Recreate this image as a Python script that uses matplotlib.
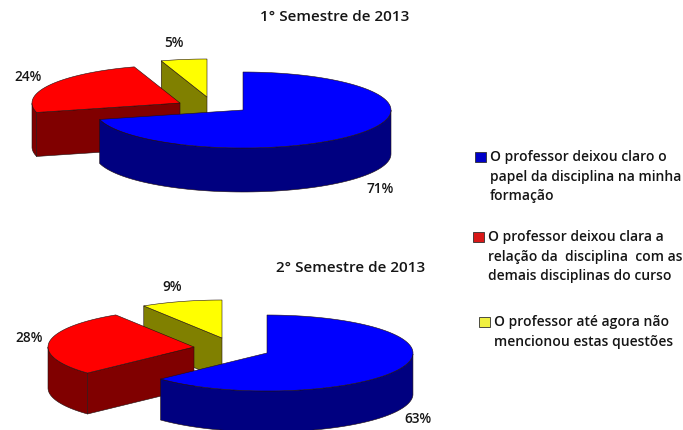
import numpy as np
import matplotlib
matplotlib.use('Agg')
import matplotlib.pyplot as plt
from matplotlib.patches import Polygon, Rectangle

plt.rcParams['font.family'] = ['Open Sans', 'DejaVu Sans']

titles = ['1° Semestre de 2013', '2° Semestre de 2013']
semestre1 = [71, 24, 5]
semestre2 = [63, 28, 9]
legend_lines = [
    ['O professor deixou claro o', 'papel da disciplina na minha', 'formação'],
    ['O professor deixou clara a', 'relação da  disciplina  com as', 'demais disciplinas do curso'],
    ['O professor até agora não', 'mencionou estas questões'],
]

# cores: topo e lateral de cada fatia
top_colors = ['#0000ff', '#ff0000', '#ffff00']
side_colors = ['#000080', '#800000', '#808000']
legend_colors = ['#0000c8', '#d81818', '#f0f040']


def arc(cx, cy, rx, ry, a0, a1):
    t = np.radians(np.linspace(a0, a1, 120))
    return np.column_stack([cx + rx * np.cos(t), cy - ry * np.sin(t)])


def draw_slice(ax, center, rx, ry, depth, a0, a1, top, side):
    apex = np.array(center, dtype=float)
    pts = arc(apex[0], apex[1], rx, ry, a0, a1)
    down = np.array([0, depth])
    edge = dict(edgecolor='#201010', linewidth=0.4, joinstyle='round')

    # paredes do corte (so as que estao viradas para a frente)
    if np.cos(np.radians(a0)) < -1e-6:
        ax.add_patch(Polygon([apex, pts[0], pts[0] + down, apex + down], facecolor=side, **edge))
    if np.cos(np.radians(a1)) > 1e-6:
        ax.add_patch(Polygon([apex, pts[-1], pts[-1] + down, apex + down], facecolor=side, **edge))

    # lateral curva, parte de baixo da elipse
    angles = np.linspace(a0, a1, 120)
    front = pts[np.sin(np.radians(angles)) <= 0]
    if len(front):
        ax.add_patch(Polygon(np.vstack([front, (front + down)[::-1]]), facecolor=side, **edge))

    ax.add_patch(Polygon(np.vstack([apex, pts]), facecolor=top, **edge))


def draw_pie(ax, values, centers, rx, ry, depth):
    # desenha do fundo para a frente, sentido horario a partir do topo
    starts = 90 - np.cumsum([0] + values[:-1]) * 3.6
    order = np.argsort([c[1] for c in centers])
    for i in order:
        draw_slice(ax, centers[i], rx, ry, depth, starts[i], starts[i] - values[i] * 3.6,
                   top_colors[i], side_colors[i])


fig = plt.figure(figsize=(6.83, 4.30), dpi=100)
ax = fig.add_axes([0, 0, 1, 1])
ax.set_xlim(0, 683)
ax.set_ylim(430, 0)
ax.axis('off')

draw_pie(ax, semestre1, [(243, 110), (180, 103), (207, 97)], 148, 38, 44)
draw_pie(ax, semestre2, [(267, 353), (194, 347), (222, 338)], 146, 38, 41)

txt = dict(ha='center', va='center', color='#151515', fontweight='semibold')
ax.text(335, 17, titles[0], fontsize=11, **txt)
ax.text(351, 268, titles[1], fontsize=11, **txt)

label_pos1 = [(380, 189), (28, 77), (174, 43)]
label_pos2 = [(418, 419), (29, 338), (172, 287)]
for v, p in zip(semestre1, label_pos1):
    ax.text(p[0], p[1], f'{v}%', fontsize=9.8, **txt)
for v, p in zip(semestre2, label_pos2):
    ax.text(p[0], p[1], f'{v}%', fontsize=9.8, **txt)

# legenda manual
legend_y = [157, 237, 322]
legend_x = [490, 488, 494]
box_x = [475, 473, 479]
line_h = [19.5, 19.5, 20]
for i, lines in enumerate(legend_lines):
    ax.add_patch(Rectangle((box_x[i], legend_y[i] - 5.5), 11, 10.5, facecolor=legend_colors[i],
                           edgecolor='#303030', linewidth=0.6))
    for j, s in enumerate(lines):
        ax.text(legend_x[i], legend_y[i] + j * line_h[i], s, ha='left', va='center',
                color='#151515', fontsize=10, fontweight='semibold')

fig.savefig('out.png', dpi=100)
